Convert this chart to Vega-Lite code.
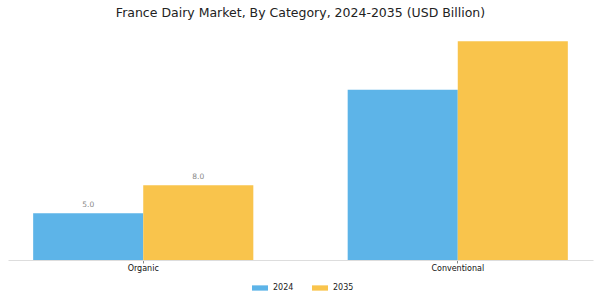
{
  "$schema": "https://vega.github.io/schema/vega-lite/v6.json",
  "width": 585,
  "height": 231,
  "autosize": {"type": "none"},
  "padding": {"left": 8, "top": 29, "right": 7, "bottom": 40},
  "background": "white",
  "title": {
    "text": "France Dairy Market, By Category, 2024-2035 (USD Billion)",
    "font": "DejaVu Sans",
    "fontSize": 12.5,
    "fontWeight": "normal",
    "color": "#222222",
    "anchor": "middle",
    "offset": 10
  },
  "data": {
    "values": [
      {"category": "Organic", "year": "2024", "value": 5.0},
      {"category": "Organic", "year": "2035", "value": 8.0},
      {"category": "Conventional", "year": "2024", "value": 18.2},
      {"category": "Conventional", "year": "2035", "value": 23.4}
    ]
  },
  "encoding": {
    "x": {
      "field": "category",
      "type": "nominal",
      "sort": ["Organic", "Conventional"],
      "scale": {"paddingInner": 0.3, "paddingOuter": 0.08},
      "axis": {
        "title": null,
        "labelAngle": 0,
        "labelFont": "DejaVu Sans",
        "labelFontSize": 8,
        "labelColor": "#111111",
        "domainColor": "#dddddd",
        "tickColor": "#888888",
        "tickSize": 3,
        "labelPadding": 1
      }
    },
    "xOffset": {"field": "year", "type": "nominal", "scale": {"paddingInner": 0, "paddingOuter": 0}},
    "y": {
      "field": "value",
      "type": "quantitative",
      "scale": {"domain": [0, 24.7], "nice": false},
      "axis": null
    }
  },
  "layer": [
    {
      "mark": {"type": "bar"},
      "encoding": {
        "color": {
          "field": "year",
          "type": "nominal",
          "scale": {"domain": ["2024", "2035"], "range": ["#5DB4E8", "#F9C44C"]},
          "legend": {
            "title": null,
            "orient": "none",
            "legendX": 244,
            "legendY": 251,
            "direction": "horizontal",
            "symbolType": "M-1,-0.33L1,-0.33L1,0.33L-1,0.33Z",
            "symbolSize": 256,
            "symbolStrokeWidth": 0,
            "labelFont": "DejaVu Sans",
            "labelFontSize": 8,
            "labelColor": "#222222",
            "labelOffset": 5,
            "columnPadding": 18
          }
        }
      }
    },
    {
      "transform": [{"filter": "datum.category === 'Organic'"}],
      "mark": {
        "type": "text",
        "baseline": "bottom",
        "dy": -4,
        "font": "DejaVu Sans",
        "fontSize": 7.5,
        "color": "#888888"
      },
      "encoding": {
        "text": {"field": "value", "type": "quantitative", "format": ".1f"}
      }
    }
  ],
  "config": {"view": {"stroke": null}}
}
